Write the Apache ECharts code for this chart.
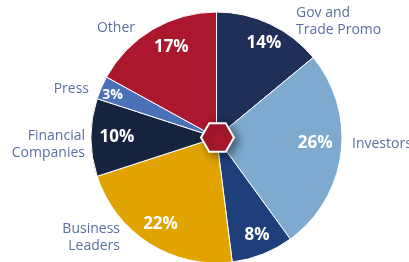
<!DOCTYPE html>
<html>
<head>
<meta charset="utf-8">
<script src="https://cdn.jsdelivr.net/npm/echarts@6/dist/echarts.min.js"></script>
<style>
  html, body { margin: 0; padding: 0; background: #fff; }
  #chart { width: 409px; height: 262px; }
</style>
</head>
<body>
<div id="chart"></div>
<script>
// slices, clockwise from 12 o'clock
const categories = ['Gov and\nTrade Promo', 'Investors', '', 'Business\nLeaders', 'Financial\nCompanies', 'Press', 'Other']
const shares = [14, 26, 8, 22, 10, 3, 17]

const sliceColors = ['#1f2f57', '#7eaad0', '#1e3f7a', '#e0a300', '#16243f', '#4a71b8', '#ab182d']
// where each category name sits: [x, y, align]
const namePos = [[296, 22, 'left'], [352, 144, 'left'], null, [120, 237.5, 'right'],
  [85, 144.5, 'right'], [89, 89, 'right'], [135, 28, 'right']]
// small nudges of the percent labels: [dx, dy]
const pctNudge = [[3, 0], [-5, -7], [2, 0], [0, -2], [5, 0], [-8, -1], [8, 0]]

const cx = 216.5, cy = 137.5, R = 125.5
const font = '"Open Sans", "Noto Sans", sans-serif'

const chart = echarts.init(document.getElementById('chart'), null, { renderer: 'canvas' })

const hexR = 16.5
const hexPts = []
for (let i = 0; i < 6; i++) {
  const a = Math.PI / 3 * i
  hexPts.push([hexR * Math.cos(a), hexR * Math.sin(a)])
}

chart.setOption({
  animation: false,
  series: [
    {
      type: 'pie',
      center: [cx, cy],
      radius: [0, R],
      startAngle: 90,
      avoidLabelOverlap: false,
      silent: true,
      itemStyle: { borderColor: '#fff', borderWidth: 1 },
      label: {
        position: 'outside',
        color: '#5b6fa0',
        fontFamily: font,
        fontSize: 14,
        lineHeight: 17
      },
      labelLine: { show: false },
      labelLayout: p => {
        const pos = namePos[p.dataIndex]
        if (!pos) return {}
        return { x: pos[0], y: pos[1], align: pos[2], verticalAlign: 'middle' }
      },
      data: categories.map((name, i) => ({
        name, value: shares[i],
        itemStyle: { color: sliceColors[i] },
        label: { show: !!namePos[i] }
      }))
    },
    {
      // transparent copy, only carries the percent labels further out
      type: 'pie',
      center: [cx, cy],
      radius: [0, 203],
      startAngle: 90,
      avoidLabelOverlap: false,
      silent: true,
      z: 3,
      itemStyle: { color: 'rgba(0,0,0,0)', borderWidth: 0 },
      label: {
        show: true,
        position: 'inside',
        formatter: '{c}%',
        color: '#fff',
        fontFamily: font,
        fontWeight: 'bold',
        fontSize: 17
      },
      labelLine: { show: false },
      labelLayout: p => ({ dx: pctNudge[p.dataIndex][0], dy: pctNudge[p.dataIndex][1] }),
      data: categories.map((name, i) => ({
        name, value: shares[i],
        label: i === 5 ? { fontSize: 14 } : {}
      }))
    }
  ],
  graphic: [
    {
      type: 'polygon',
      x: cx + 1, y: cy,
      z: 100,
      shape: { points: hexPts },
      style: {
        fill: '#ab182d',
        stroke: '#fff',
        lineWidth: 2,
        shadowBlur: 10,
        shadowOffsetX: 4,
        shadowOffsetY: 3,
        shadowColor: 'rgba(0,0,0,0.45)'
      }
    }
  ]
})
</script>
</body>
</html>
